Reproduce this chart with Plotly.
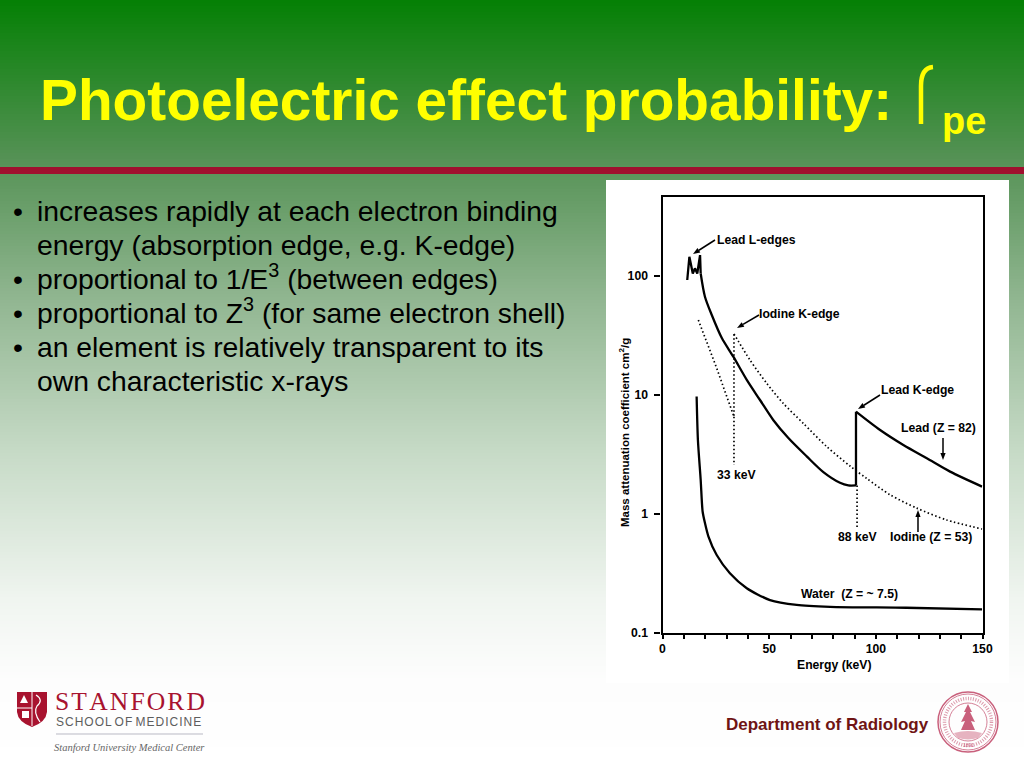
import plotly.graph_objects as go

W, H = 1024, 768

# ---- data ----
lead_l_x = [11.6, 12.6, 14.2, 15.2, 16.3, 17.6, 17.9]
lead_l_y = [92.6, 145, 105, 116, 105, 150, 105]
lead_mid_x = [17.9, 19.9, 23.1, 27.8, 33.2, 39.5, 45.7, 51.9, 59.0, 67.6, 75.4, 83.2, 87.1, 90.7]
lead_mid_y = [105, 67, 47, 30.1, 21.0, 13.4, 9.08, 6.17, 4.35, 3.05, 2.25, 1.83, 1.74, 1.74]
lead_edge_x = [90.7, 90.7]
lead_edge_y = [1.74, 7.25]
lead_k_x = [90.7, 102, 112.9, 123.9, 134.8, 149.8]
lead_k_y = [7.25, 5.08, 3.80, 2.94, 2.27, 1.70]
iodine_l_x = [16.8, 25.4, 33.5, 33.5]
iodine_l_y = [42.7, 16.8, 6.58, 32.6]
iodine_k_x = [33.5, 41.0, 48.9, 56.6, 66.0, 77.0, 87.9, 95.7, 106.7, 119.2, 133.2, 149.8]
iodine_k_y = [32.6, 19.7, 12.5, 8.51, 5.78, 3.68, 2.53, 1.99, 1.45, 1.12, 0.891, 0.748]
water_x = [16.0, 16.6, 17.9, 18.8, 19.9, 21.5, 25.4, 31.6, 39.5, 50.4, 62.9, 78.6, 114.2, 149.8]
water_y = [9.7, 4.19, 1.93, 1.05, 0.84, 0.65, 0.452, 0.318, 0.238, 0.189, 0.172, 0.166, 0.163, 0.158]
drop33_x = [33.5, 33.5]
drop33_y = [6.58, 2.58]
drop88_x = [91.2, 91.2]
drop88_y = [1.74, 0.778]

x_ticks = [0, 50, 100, 150]
y_ticks = [0.1, 1, 10, 100]
y_tick_labels = ["0.1", "1", "10", "100"]

title_text = "Photoelectric effect probability:"
bullets = [
    "increases rapidly at each electron binding",
    "energy (absorption edge, e.g. K-edge)",
    "proportional to 1/E<sup>3</sup> (between edges)",
    "proportional to Z<sup>3</sup> (for same electron shell)",
    "an element is relatively transparent to its",
    "own characteristic x-rays",
]
bullet_flags = [True, False, True, True, True, False]

# colours of the page gradient (stops: y px, r, g, b)
grad = [(0, 4, 128, 4), (165, 88, 146, 88), (175, 92, 150, 92), (300, 145, 182, 145),
        (450, 198, 218, 198), (600, 240, 245, 240), (680, 253, 253, 253), (768, 255, 255, 255)]

def px(x): return x / W
def py(y): return 1 - y / H
def path(*cmds):
    out = []
    for c in cmds:
        if isinstance(c, str):
            out.append(c)
        else:
            out.append(f"{px(c[0]):.5f},{py(c[1]):.5f}")
    return " ".join(out)

def grad_col(y):
    for (y0, r0, g0, b0), (y1, r1, g1, b1) in zip(grad, grad[1:]):
        if y0 <= y <= y1:
            t = (y - y0) / (y1 - y0)
            return f"rgb({r0+(r1-r0)*t:.0f},{g0+(g1-g0)*t:.0f},{b0+(b1-b0)*t:.0f})"
    return "white"

def rect(x0, y0, x1, y1, col):
    return dict(type="rect", xref="paper", yref="paper", x0=px(x0), x1=px(x1), y0=py(y0), y1=py(y1),
                fillcolor=col, line_width=0, layer="below")

def pshape(*cmds, fill=None, col=None, width=0):
    d = dict(type="path", xref="paper", yref="paper", layer="above", path=path(*cmds))
    if fill:
        d["fillcolor"] = fill
    if col:
        d["line"] = dict(color=col, width=width)
    else:
        d["line_width"] = 0
    return d

shapes = []
for y in range(0, H, 3):
    shapes.append(rect(0, y, W, y + 3.5, grad_col(y + 1.5)))
shapes.append(rect(0, 167, W, 174, "#a0102e"))
shapes.append(rect(606, 180, 1009, 683, "white"))

# integral hook of the title
shapes.append(pshape("M", (921, 124), "L", (921, 86), "Q", (921, 68), (933, 67), col="#ffff00", width=4.5))

# Stanford shield
RED = "#a8132f"
shapes.append(pshape("M", (17, 692), "L", (47, 692), "L", (47, 712), "Q", (46, 722), (32, 727),
                     "Q", (18, 722), (17, 712), "Z", fill=RED))
shapes.append(pshape("M", (32, 692), "L", (32, 726), "M", (17, 708), "L", (32, 708), col="white", width=1))
shapes.append(pshape("M", (36, 695), "Q", (44, 700), (37, 706), "Q", (33, 712), (40, 722), col="white", width=1.2))
shapes.append(pshape("M", (24, 695), "L", (28, 703), "L", (20, 703), "Z", fill="white"))
shapes.append(rect(22, 711, 29, 718, "white") | dict(layer="above"))
shapes.append(dict(type="line", xref="paper", yref="paper", x0=px(56), x1=px(203), y0=py(734), y1=py(734),
                   line=dict(color="#b9b9c4", width=1), layer="above"))

# seal
SEAL = "#c9607c"
for r, w, d in [(30, 1.5, "solid"), (28, 0.8, "solid"), (23.5, 3.5, "1px 1.5px"), (19, 0.8, "solid")]:
    shapes.append(dict(type="circle", xref="paper", yref="paper", layer="above",
                       x0=px(968 - r), x1=px(968 + r), y0=py(722 - r), y1=py(722 + r),
                       line=dict(color=SEAL if d == "solid" else "#dc9aac", width=w, dash=d)))
shapes.append(pshape("M", (968, 704), "L", (972, 712), "L", (970, 712), "L", (975, 722), "L", (971, 721), "L", (975, 730),
                     "L", (961, 730), "L", (965, 721), "L", (961, 722), "L", (966, 712), "L", (964, 712), "Z", fill=SEAL))
shapes.append(pshape("M", (954, 733), "Q", (968, 729), (982, 733), "L", (978, 738), "Q", (968, 741), (958, 738), "Z", fill="#e6b3c0"))

# arrows of the chart labels
def arrow(hx, hy, tx, ty, head=7.0, half=2.6):
    dx, dy = tx - hx, ty - hy
    n = (dx * dx + dy * dy) ** 0.5
    ux, uy = dx / n, dy / n
    bx, by = hx + ux * head, hy + uy * head
    shapes.append(pshape("M", (bx, by), "L", (tx, ty), col="black", width=1.5))
    shapes.append(pshape("M", (hx, hy), "L", (bx - uy * half, by + ux * half), "L", (bx + uy * half, by - ux * half), "Z", fill="black"))

arrow(693, 254, 715, 240)
arrow(737, 328, 759, 315)
arrow(858, 409, 880, 395)
arrow(943, 460, 943, 438)
arrow(918, 510, 918, 532)

LAB = "Liberation Sans"
def text(x, y, s, size, col="black", anchor="left", bold=False, family=LAB, yanchor="middle", angle=0):
    return dict(xref="paper", yref="paper", x=px(x), y=py(y), text=f"<b>{s}</b>" if bold else s, showarrow=False,
                xanchor=anchor, yanchor=yanchor, font=dict(family=family, size=size, color=col),
                borderpad=0, borderwidth=0, textangle=angle)

ann = [
    text(40, 100, title_text, 56.8, "#ffff00", bold=True),
    text(942, 121, "pe", 38, "#ffff00", bold=True),
]
for i, (b, flag) in enumerate(zip(bullets, bullet_flags)):
    y = 227 + 34 * i
    if flag:
        ann.append(text(13, y, "•", 28.3, "black", yanchor="bottom"))
    ann.append(text(37, y, b, 28.3, "black", yanchor="bottom"))

LS = 12.2
ann += [
    text(717, 240, "Lead L-edges", LS, bold=True),
    text(759, 314, "Iodine K-edge", LS, bold=True),
    text(881, 390, "Lead K-edge", LS, bold=True),
    text(901, 428, "Lead (Z = 82)", LS, bold=True),
    text(717, 475, "33 keV", LS, bold=True),
    text(838, 537, "88 keV", LS, bold=True),
    text(890, 537, "Iodine (Z = 53)", LS, bold=True),
    text(801, 594, "Water  (Z = ~ 7.5)", LS, bold=True),
    text(834, 665, "Energy (keV)", LS, anchor="center", bold=True),
    text(624, 433, "Mass attenuation coefficient cm<sup>2</sup>/g", 11.5, anchor="center", bold=True, angle=-90),
    text(55, 701, "S\u200aT\u200aA\u200aN\u200aF\u200aO\u200aR\u200aD", 25.6, RED, family="Liberation Serif"),
    text(56, 722, "S\u200aC\u200aH\u200aO\u200aO\u200aL O\u200aF M\u200aE\u200aD\u200aI\u200aC\u200aI\u200aN\u200aE", 12, "#5d5d5d"),
    text(54, 747, "<i>Stanford University Medical Center</i>", 10.5, "#666666", family="Liberation Serif"),
    text(726, 724, "Department of Radiology", 17, "#6f1414", bold=True),
    text(968, 745, "1891", 5, SEAL, anchor="center"),
]

BOLD_TICK = dict(size=12.2, family="Liberation Sans", weight="bold", color="black")

fig = go.Figure()
SOLID = dict(color="black", width=2.3)
DOT = dict(color="black", width=1.7, dash="1.5px 2.5px")
fig.add_trace(go.Scatter(x=lead_l_x, y=lead_l_y, mode="lines", line=SOLID, name="Lead L-edges"))
fig.add_trace(go.Scatter(x=lead_mid_x, y=lead_mid_y, mode="lines", line=SOLID | dict(shape="spline", smoothing=0.8), name="Lead"))
fig.add_trace(go.Scatter(x=lead_edge_x, y=lead_edge_y, mode="lines", line=SOLID, name="Lead K-edge"))
fig.add_trace(go.Scatter(x=lead_k_x, y=lead_k_y, mode="lines", line=SOLID | dict(shape="spline", smoothing=0.8), name="Lead above K"))
fig.add_trace(go.Scatter(x=iodine_l_x, y=iodine_l_y, mode="lines", line=DOT, name="Iodine below K"))
fig.add_trace(go.Scatter(x=iodine_k_x, y=iodine_k_y, mode="lines", line=DOT | dict(shape="spline", smoothing=0.8), name="Iodine"))
fig.add_trace(go.Scatter(x=water_x, y=water_y, mode="lines", line=SOLID | dict(shape="spline", smoothing=0.7), name="Water"))
fig.add_trace(go.Scatter(x=drop33_x, y=drop33_y, mode="lines", line=DOT, name="33 keV"))
fig.add_trace(go.Scatter(x=drop88_x, y=drop88_y, mode="lines", line=DOT, name="88 keV"))

fig.update_layout(
    width=W, height=H, autosize=False, showlegend=False,
    margin=dict(l=0, r=0, t=0, b=0),
    paper_bgcolor="white", plot_bgcolor="rgba(0,0,0,0)",
    shapes=shapes, annotations=ann,
    font=dict(family=LAB, size=12, color="black"),
    xaxis=dict(domain=[662.5 / W, 982.5 / W], range=[0, 150], tickvals=x_ticks, ticks="outside", ticklen=4, tickwidth=2,
               tickcolor="black", linecolor="black", linewidth=2.2, mirror=True, showgrid=False, zeroline=False,
               tickfont=BOLD_TICK, anchor="y", automargin=False, ticklabelstandoff=-1,
               minor=dict(dtick=10, ticks="outside", ticklen=4, tickwidth=1.5, tickcolor="black", showgrid=False)),
    yaxis=dict(domain=[1 - 633 / H, 1 - 197 / H], type="log", range=[-1, 2.664], tickvals=y_ticks, ticktext=y_tick_labels,
               ticks="outside", ticklen=6, tickwidth=2, tickcolor="black", linecolor="black", linewidth=2.2, mirror=True,
               showgrid=False, zeroline=False, tickfont=BOLD_TICK, anchor="x", automargin=False, ticklabelstandoff=4),
)

fig.write_html("out.html", config=dict(displayModeBar=False),
               post_script="document.documentElement.style.overflow='hidden';document.body.style.margin='0';"
                           "document.body.style.overflow='hidden';document.body.style.height='768px';")
